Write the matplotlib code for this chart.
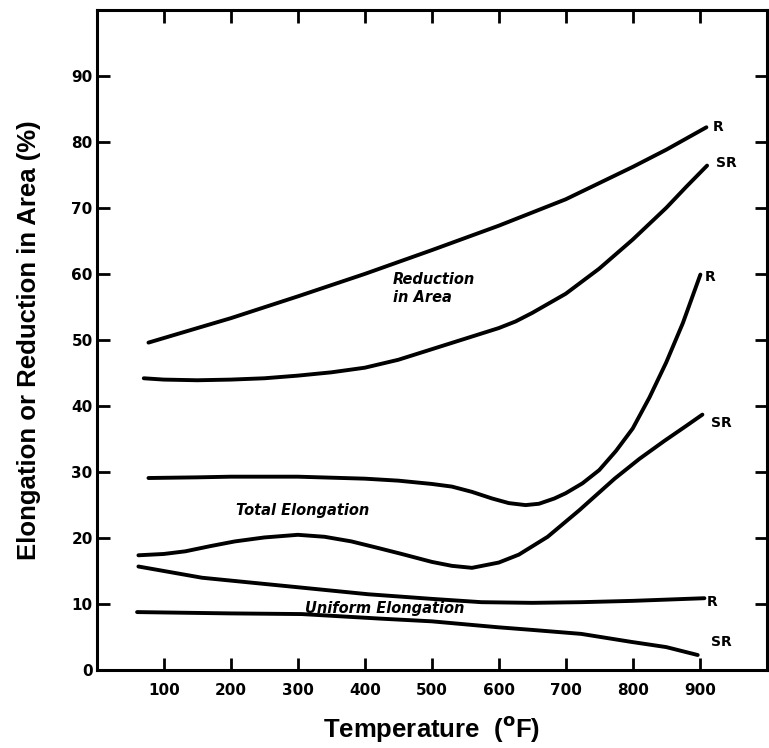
import matplotlib
matplotlib.use("Agg")
import matplotlib.pyplot as plt

# curves (temperature in F, percent)
ra_r_x = [77, 150, 200, 300, 400, 500, 600, 700, 800, 850, 910]
ra_r_y = [49.6, 51.8, 53.3, 56.6, 60.0, 63.6, 67.3, 71.3, 76.2, 78.8, 82.2]

ra_sr_x = [70, 100, 150, 200, 250, 300, 350, 400, 450, 500, 550, 600, 625, 650,
           700, 750, 800, 850, 880, 911]
ra_sr_y = [44.2, 44.0, 43.9, 44.0, 44.2, 44.6, 45.1, 45.8, 47.0, 48.6, 50.2, 51.8, 52.8, 54.1,
           57.0, 60.8, 65.2, 70.0, 73.2, 76.4]

te_r_x = [77, 150, 200, 300, 400, 450, 500, 530, 560, 590, 615, 640, 660, 683,
          700, 725, 750, 775, 800, 825, 850, 875, 901]
te_r_y = [29.1, 29.2, 29.3, 29.3, 29.0, 28.7, 28.2, 27.8, 27.0, 26.0, 25.3, 25.0, 25.2, 26.0,
          26.8, 28.3, 30.3, 33.2, 36.6, 41.3, 46.6, 52.6, 59.9]

te_sr_x = [62, 100, 132, 170, 206, 250, 300, 340, 380, 420, 455, 500, 530, 560,
           600, 630, 673, 720, 773, 810, 847, 880, 904]
te_sr_y = [17.4, 17.6, 18.0, 18.8, 19.5, 20.1, 20.5, 20.2, 19.5, 18.5, 17.6, 16.4, 15.8, 15.5,
           16.3, 17.5, 20.2, 24.2, 29.0, 32.0, 34.7, 37.0, 38.7]

ue_r_x = [62, 157, 306, 405, 500, 574, 650, 723, 800, 907]
ue_r_y = [15.7, 14.0, 12.5, 11.5, 10.8, 10.3, 10.2, 10.3, 10.5, 10.9]

ue_sr_x = [60, 200, 306, 425, 500, 599, 650, 723, 797, 850, 897]
ue_sr_y = [8.8, 8.6, 8.5, 7.8, 7.4, 6.5, 6.1, 5.5, 4.3, 3.5, 2.3]

x_ticks = [100, 200, 300, 400, 500, 600, 700, 800, 900]
y_ticks = [0, 10, 20, 30, 40, 50, 60, 70, 80, 90]

# end labels: (x, y, text)
end_labels = [(928, 82.3, "R"), (940, 76.8, "SR"), (915, 59.6, "R"),
              (933, 37.5, "SR"), (918, 10.3, "R"), (932, 4.2, "SR")]

fig = plt.figure(figsize=(7.69, 7.48), dpi=100)
ax = fig.add_axes([0.126, 0.104, 0.871, 0.883])

lw = 2.8
for xs, ys in [(ra_r_x, ra_r_y), (ra_sr_x, ra_sr_y), (te_r_x, te_r_y),
               (te_sr_x, te_sr_y), (ue_r_x, ue_r_y), (ue_sr_x, ue_sr_y)]:
    ax.plot(xs, ys, color="black", lw=lw, solid_capstyle="round", solid_joinstyle="round")

lab = dict(fontsize=10, fontweight="bold", color="black", family="DejaVu Sans")
for x, y, t in end_labels:
    ax.text(x, y, t, ha="center", va="center", **lab)

cap = dict(fontsize=10.5, fontweight="bold", style="italic", color="black", family="DejaVu Sans")
ax.text(442, 59.1, "Reduction", ha="left", va="center", **cap)
ax.text(442, 56.4, "in Area", ha="left", va="center", **cap)
ax.text(307, 24.2, "Total Elongation", ha="center", va="center", **cap)
ax.text(430, 9.4, "Uniform Elongation", ha="center", va="center", **cap)

ax.set_xlim(0, 1000)
ax.set_ylim(0, 100)
ax.set_xticks(x_ticks)
ax.set_yticks(y_ticks)
ax.tick_params(direction="in", length=9, width=2, top=True, right=True, labelsize=11)
ax.tick_params(axis="y", pad=3)
ax.tick_params(axis="x", pad=9)
for t in ax.get_xticklabels() + ax.get_yticklabels():
    t.set_fontweight("bold")
for s in ax.spines.values():
    s.set_linewidth(2.2)

ax.set_xlabel(r"Temperature  ($^\mathbf{o}$F)", fontsize=18.5, fontweight="bold",
              family="Liberation Sans", labelpad=12)
ax.set_ylabel("Elongation or Reduction in Area (%)", fontsize=18.5, fontweight="bold",
              family="Liberation Sans", labelpad=22)

fig.savefig("out.png", dpi=100)
